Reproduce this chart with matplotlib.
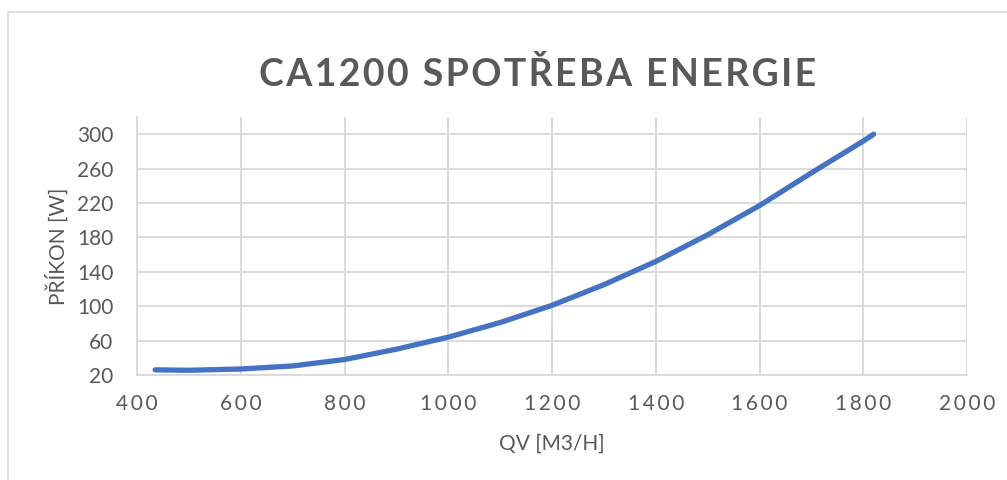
import matplotlib.pyplot as plt
from matplotlib.patches import Rectangle

plt.rcParams['font.family'] = ['Lato', 'DejaVu Sans']

qv = [435, 500, 600, 700, 800, 900, 1000, 1100, 1200, 1300, 1400, 1500, 1600, 1700, 1800, 1820]
prikon = [26, 25.5, 27, 30.5, 38, 50, 64, 81, 101, 125, 152, 183, 217, 255, 292, 300]
x_ticks = [400, 600, 800, 1000, 1200, 1400, 1600, 1800, 2000]
y_ticks = [20, 60, 100, 140, 180, 220, 260, 300]

gray = '#595959'
grid = '#d9d9d9'


def spaced(s, sep='\u2009'):
    return sep.join(s)


fig = plt.figure(figsize=(10.07, 4.8), dpi=100)
fig.patches.append(Rectangle((8 / 1007, -0.1), 1.1, (480 - 12) / 480 + 0.1,
                             transform=fig.transFigure, fill=False,
                             edgecolor=grid, linewidth=1.2))

ax = fig.add_axes([137 / 1007, (480 - 375) / 480, (967 - 137) / 1007, (375 - 117) / 480])
ax.plot(qv, prikon, color='#4472c4', linewidth=3.8, solid_capstyle='round')

ax.set_xlim(400, 2000)
ax.set_ylim(20, 320)
ax.set_xticks(x_ticks)
ax.set_xticklabels([spaced(str(t)) for t in x_ticks])
ax.set_yticks(y_ticks)
ax.grid(True, color=grid, linewidth=1.3)
ax.set_axisbelow(True)
for side in ['top', 'right']:
    ax.spines[side].set_visible(False)
for side in ['left', 'bottom']:
    ax.spines[side].set_color(grid)
    ax.spines[side].set_linewidth(1.3)
ax.tick_params(length=0, colors=gray, labelsize=15)
ax.tick_params(axis='x', pad=14)
ax.tick_params(axis='y', pad=17)

ax.set_xlabel('QV [M3/H]', color=gray, fontsize=15, labelpad=14)
ax.set_ylabel('PŘÍKON [W]', color=gray, fontsize=15, labelpad=6)

fig.text(538 / 1007, 1 - 75 / 480, spaced('CA1200 SPOTŘEBA ENERGIE', '\u200a'),
         ha='center', va='center', fontsize=27, fontweight='bold', color=gray)

fig.savefig('out.png', dpi=100)
